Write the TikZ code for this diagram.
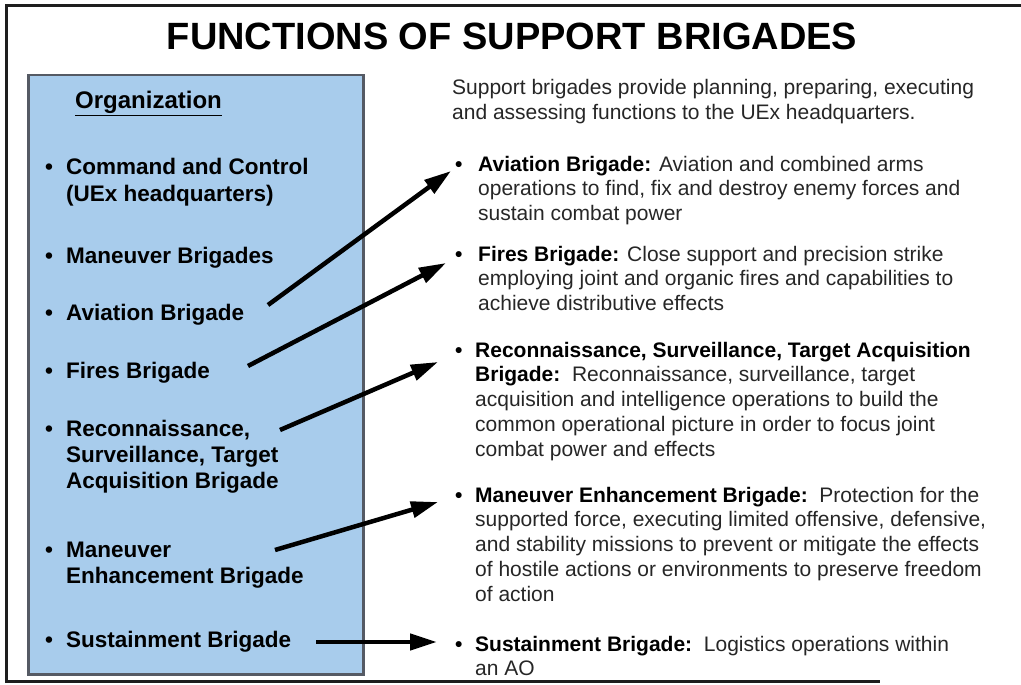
\documentclass[tikz,border=0pt]{standalone}
\usepackage{fontspec}
\setmainfont{Liberation Sans}
\usetikzlibrary{arrows.meta}
\definecolor{boxblue}{RGB}{168,204,236}
\definecolor{boxedge}{RGB}{85,90,100}
\definecolor{txtgray}{RGB}{38,38,38}
\definecolor{framec}{RGB}{30,30,30}
\begin{document}
\begin{tikzpicture}[x=1pt,y=-1pt,
  lefttxt/.style={anchor=base west,inner sep=0pt,font=\fontsize{22.5}{27}\selectfont\bfseries,text=black},
  leftbul/.style={anchor=base west,inner sep=0pt,font=\fontsize{22.5}{27}\selectfont\bfseries,text=black},
  righttxt/.style={anchor=base west,inner sep=0pt,font=\fontsize{21}{24.8}\selectfont,text=txtgray},
  rightbul/.style={anchor=base west,inner sep=0pt,font=\fontsize{21}{24.8}\selectfont\bfseries,text=black},
  arr/.style={line width=4.5pt,black,-{Triangle[length=27pt,width=16pt]}}]
\useasboundingbox (0,0) rectangle (1021,685);
% frame
\draw[framec,line width=3pt] (1021,6) -- (6,6) -- (6,681) -- (880,681);
% title
\node[anchor=base,inner sep=0pt,font=\fontsize{38}{40}\selectfont\bfseries] (title) at (512,50) {FUNCTIONS OF SUPPORT BRIGADES};
% blue box
\node[draw=boxedge,line width=2.5pt,fill=boxblue,minimum width=335pt,minimum height=599pt,anchor=north west,inner sep=0pt] (orgbox) at (27,74) {};
\node[anchor=base west,inner sep=0pt,font=\fontsize{24}{28}\selectfont\bfseries] (orgt) at (75,109) {\underline{Organization}};
% left items
\foreach \yy in {174,263,320,378,436,557,647}{\node[leftbul] at (45,\yy) {•};}
\node[lefttxt] (lcc) at (66,174) {\vtop{\hbox{Command and Control}\hbox{(UEx headquarters)}}};
\node[lefttxt] (lmb) at (66,263) {Maneuver Brigades};
\node[lefttxt] (lav) at (66,320) {Aviation Brigade};
\node[lefttxt] (lfb) at (66,378) {Fires Brigade};
\node[lefttxt] (lrs) at (66,436) {\vtop{\baselineskip=26pt\hbox{Reconnaissance,}\hbox{Surveillance, Target}\hbox{Acquisition Brigade}}};
\node[lefttxt] (lme) at (66,557) {\vtop{\baselineskip=26pt\hbox{Maneuver}\hbox{Enhancement Brigade}}};
\node[lefttxt] (lsb) at (66,647) {Sustainment Brigade};
% intro
\node[righttxt] (intro) at (452,95) {\vtop{\hbox{Support brigades provide planning, preparing, executing}\hbox{and assessing functions to the UEx headquarters.}}};
% right items
\node[rightbul] (bav) at (455,171) {•};
\node[righttxt] (rav) at (478,171) {\vtop{\hbox{\textbf{\color{black}Aviation Brigade:} Aviation and combined arms}\hbox{operations to find, fix and destroy enemy forces and}\hbox{sustain combat power}}};
\node[rightbul] (bfb) at (455,261) {•};
\node[righttxt] (rfb) at (478,261) {\vtop{\hbox{\textbf{\color{black}Fires Brigade:} Close support and precision strike}\hbox{employing joint and organic fires and capabilities to}\hbox{achieve distributive effects}}};
\node[rightbul] (brs) at (455,357) {•};
\node[righttxt] (rrs) at (475,357) {\vtop{\hbox{\textbf{\color{black}Reconnaissance, Surveillance, Target Acquisition}}\hbox{\textbf{\color{black}Brigade:}\ \ Reconnaissance, surveillance, target}\hbox{acquisition and intelligence operations to build the}\hbox{common operational picture in order to focus joint}\hbox{combat power and effects}}};
\node[rightbul] (bme) at (455,502) {•};
\node[righttxt] (rme) at (475,502) {\vtop{\hbox{\textbf{\color{black}Maneuver Enhancement Brigade:}\ \ Protection for the}\hbox{supported force, executing limited offensive, defensive,}\hbox{and stability missions to prevent or mitigate the effects}\hbox{of hostile actions or environments to preserve freedom}\hbox{of action}}};
\node[rightbul] (bsb) at (455,651) {•};
\node[righttxt] (rsb) at (475,651) {\vtop{\hbox{\textbf{\color{black}Sustainment Brigade:}\ \ Logistics operations within}\hbox{an AO}}};
% arrow ends
\coordinate (s1) at (268,305); \coordinate (e1) at (451,171);
\coordinate (s2) at (248,366); \coordinate (e2) at (446,263);
\coordinate (s3) at (280,430); \coordinate (e3) at (438,362);
\coordinate (s4) at (275,550); \coordinate (e4) at (438,502);
\coordinate (s5) at (316,642); \coordinate (e5) at (437,642);
\draw[arr] (s1) -- (e1);
\draw[arr] (s2) -- (e2);
\draw[arr] (s3) -- (e3);
\draw[arr] (s4) -- (e4);
\draw[arr] (s5) -- (e5);
\end{tikzpicture}
\end{document}
